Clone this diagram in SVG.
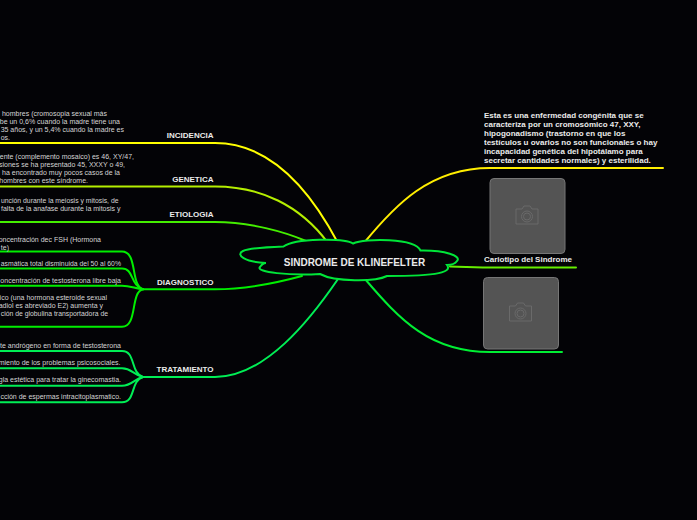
<svg xmlns="http://www.w3.org/2000/svg" width="697" height="520" viewBox="0 0 697 520">
<style>
.c{fill:none;stroke-width:2;stroke-linecap:round}
.n{opacity:.99}
.t{font-family:"Liberation Sans",Arial,sans-serif;font-size:7px;fill:#d8d8d8;text-anchor:end}
.s{font-size:6.85px}
.l{font-family:"Liberation Sans",Arial,sans-serif;font-size:8px;font-weight:bold;fill:#eeeeee;text-anchor:end}
.r{font-family:"Liberation Sans",Arial,sans-serif;font-size:8px;font-weight:bold;fill:#eeeeee}
.p{fill:#555555;stroke:#787878;stroke-width:1}
.i{fill:none;stroke:#6c6c6c;stroke-width:1}
</style>
<defs>
<g id="cam"><path class="i" d="M-11 -7H-5L-3 -10H3L5 -7H11V8H-11Z"/><circle class="i" cx="0" cy="0.5" r="5.5"/><circle class="i" cx="0" cy="0.5" r="3.5"/></g>
</defs>
<rect width="697" height="520" fill="#030306"/>
<g id="connectors">
<path class="c" stroke="#ffff00" d="M0 143H215C270 143 310 190 338 243"/>
<path class="c" stroke="#b4ee00" d="M0 186.500H215C260 186.500 300 205 328 243"/>
<path class="c" stroke="#44ee00" d="M0 222H215C250 222 285 232 306 241"/>
<path class="c" stroke="#00ee00" d="M143 289.300H215C250 289.300 280 282 302 276"/>
<path class="c" stroke="#00ee55" d="M143 377H215C265 377 310 320 338 279"/>
<path class="c" stroke="#00ee00" d="M0 251.500H122C138 251.500 130 285 143 289.300"/>
<path class="c" stroke="#00ee00" d="M0 268.500H122C134 268.500 130 285 143 289.300"/>
<path class="c" stroke="#00ee00" d="M0 285.700H122C130 285.700 134 288 143 289.300"/>
<path class="c" stroke="#00ee00" d="M0 326.700H122C138 326.700 130 292 143 289.300"/>
<path class="c" stroke="#00ee55" d="M0 351H122C136 351 130 373 143 377"/>
<path class="c" stroke="#00ee55" d="M0 368.300H122C132 368.300 132 374 143 377"/>
<path class="c" stroke="#00ee55" d="M0 385.700H122C132 385.700 134 379 143 377"/>
<path class="c" stroke="#00ee55" d="M0 402.300H122C136 402.300 130 381 143 377"/>
<path class="c" stroke="#ffee00" d="M364 243C395 205 430 168 490 168H663"/>
<path class="c" stroke="#66ee00" d="M450 266.500C470 267 480 267.500 495 267.500H576"/>
<path class="c" stroke="#00ee33" d="M365 279C400 320 430 352 490 352H562"/>
</g>
<g id="root" class="n">
<path fill="#030306" stroke="#00e83a" stroke-width="2" d="M283.500 246.500C295 238 345 238 353 243.500C365 238 415 238 420.500 250.500C445 250 462 256 457 261C455 264 450 265 447 265C452 272 440 276 387 276C375 282 335 282 320 274C290 276 255 272 260 267C262 264 265 263 266 263C245 262 235 255 243 251C250 248 270 247 283.500 246.500Z"/>
<text x="354.500" y="266" font-family="'Liberation Sans',Arial,sans-serif" font-size="10" font-weight="bold" fill="#eeeeee" text-anchor="middle">SINDROME DE KLINEFELTER</text>
</g>
<g id="incidencia" class="n">
<text class="l" x="213.500" y="138">INCIDENCIA</text>
<text class="t" x="107" y="115.500">hombres (cromosopia sexual más</text>
<text class="t" x="120" y="123.500">be un 0,6% cuando la madre tiene una</text>
<text class="t" x="124" y="131.500">35 años, y un 5,4% cuando la madre es</text>
<text class="t" x="10" y="139.500">os.</text>
</g>
<g id="genetica" class="n">
<text class="l" x="213.500" y="182">GENETICA</text>
<text class="t" x="134" y="158.500">ente (complemento mosaico) es 46, XY/47,</text>
<text class="t" x="125" y="166.500">siones se ha presentado 45, XXXY o 49,</text>
<text class="t" x="120" y="174.500">ha encontrado muy pocos casos de la</text>
<text class="t" x="88" y="182.500">hombres con este síndrome.</text>
</g>
<g id="etiologia" class="n">
<text class="l" x="213.500" y="217">ETIOLOGIA</text>
<text class="t s" x="118.500" y="202.500">unción durante la meiosis y mitosis, de</text>
<text class="t" x="120.500" y="210.500">falta de la anafase durante la mitosis y</text>
</g>
<g id="diagnostico" class="n">
<text class="l" x="213.500" y="285">DIAGNOSTICO</text>
<text class="t" x="101" y="241.500">oncentración dec FSH (Hormona</text>
<text class="t" x="9" y="249.500">te)</text>
<text class="t s" x="121" y="265.500">asmática total disminuida del 50 al 60%</text>
<text class="t" x="121" y="283">oncentración de testosterona libre baja</text>
<text class="t" x="107" y="300">ico (una hormona esteroide sexual</text>
<text class="t" x="103" y="308">adiol es abreviado E2) aumenta y</text>
<text class="t s" x="108" y="316">ción de globulina transportadora de</text>
</g>
<g id="tratamiento" class="n">
<text class="l" x="213.500" y="372">TRATAMIENTO</text>
<text class="t" x="121" y="347.500">te andrógeno en forma de testosterona</text>
<text class="t" x="120.500" y="365">miento de los problemas psicosociales.</text>
<text class="t" x="121" y="382">gla estética para tratar la ginecomastia.</text>
<text class="t" x="121" y="399">cción de espermas intracitoplasmatico.</text>
</g>
<g id="descripcion" class="n">
<text class="r" x="484" y="118">Esta es una enfermedad congénita que se</text>
<text class="r" x="484" y="127">caracteriza por un cromosómico 47, XXY,</text>
<text class="r" x="484" y="136">hipogonadismo (trastorno en que los</text>
<text class="r" x="484" y="145">testículos u ovarios no son funcionales o hay</text>
<text class="r" x="484" y="154">incapacidad genética del hipotálamo para</text>
<text class="r" x="484" y="163">secretar cantidades normales) y esterilidad.</text>
</g>
<g id="cariotipo" class="n">
<rect class="p" x="490" y="178.500" width="75" height="75" rx="4"/>
<use href="#cam" x="527" y="216"/>
<text class="r" x="484" y="262">Cariotipo del Sindrome</text>
</g>
<g id="imagen" class="n">
<rect class="p" x="483.500" y="277.500" width="75" height="71.500" rx="4"/>
<use href="#cam" x="520.500" y="313"/>
</g>
</svg>
